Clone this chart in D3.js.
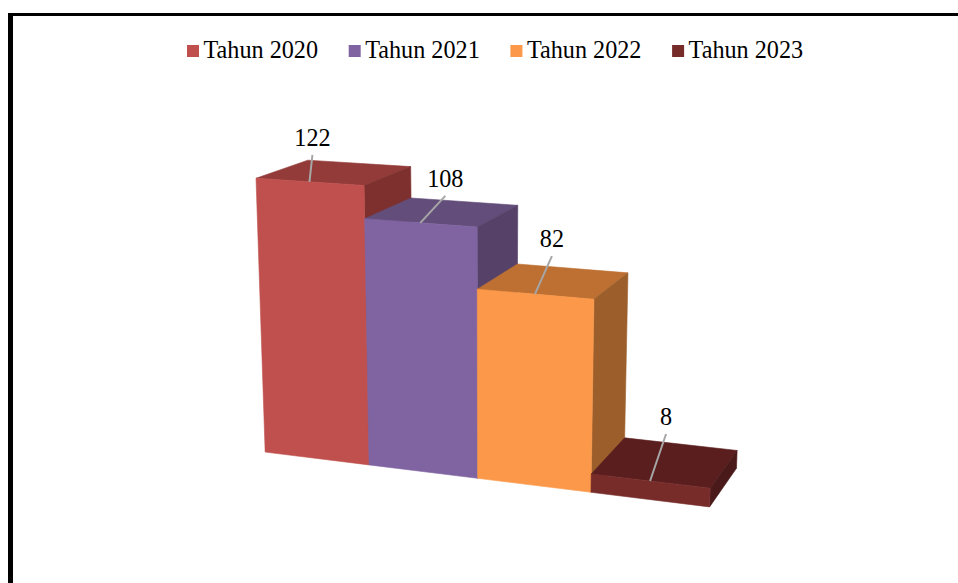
<!DOCTYPE html>
<html>
<head>
<meta charset="utf-8">
<script src="https://cdn.jsdelivr.net/npm/d3@7"></script>
<style>
body { margin: 0; background: #fff; }
svg { display: block; }
text { font-family: "Liberation Serif", serif; font-size: 24.2px; fill: #000; }
</style>
</head>
<body>
<svg id="chart" width="958" height="583"></svg>
<script>
let categories = ["Tahun 2020", "Tahun 2021", "Tahun 2022", "Tahun 2023"];
let values = [122, 108, 82, 8];

let frontColors = ["#c0504d", "#8064a2", "#fb984a", "#772c2a"];
let topColors = ["#933b39", "#634e7b", "#bd7032", "#5a1e1e"];
let sideColors = ["#7d302e", "#564268", "#9c5f2c", "#4a1a1a"];

let svg = d3.select("#chart");

// frame, open on the right and at the bottom
svg.append("rect").attr("x", 8).attr("y", 13).attr("width", 950).attr("height", 3).attr("fill", "#000");
svg.append("rect").attr("x", 8).attr("y", 13).attr("width", 5).attr("height", 570).attr("fill", "#000");

let xScale = d3.scaleBand().domain(d3.range(categories.length)).range([0, categories.length]);
let yScale = d3.scaleLinear().domain([0, 122]).range([0, 1]);

// camera fitted to the tilted 3D view
let cam = [
    [96.159, -19.160, 67.943, 265.162],
    [3.033, -280.811, -7.939, 452.088],
    [-0.021065, -0.039118, 0.058826, 1]
];

function project(x, y, z) {
    let w = cam[2][0] * x + cam[2][1] * y + cam[2][2] * z + cam[2][3];
    return [
        (cam[0][0] * x + cam[0][1] * y + cam[0][2] * z + cam[0][3]) / w,
        (cam[1][0] * x + cam[1][1] * y + cam[1][2] * z + cam[1][3]) / w
    ];
}

let line = d3.line().curve(d3.curveLinearClosed);

let bars = svg.append("g").selectAll("g")
    .data(values)
    .enter()
    .append("g")
    .attr("stroke-width", 0.6);

bars.append("path")
    .attr("fill", (d, i) => topColors[i])
    .attr("stroke", (d, i) => topColors[i])
    .attr("d", (d, i) => {
        let x0 = xScale(i), x1 = x0 + xScale.bandwidth(), y = yScale(d);
        return line([project(x0, y, 0), project(x1, y, 0), project(x1, y, 1), project(x0, y, 1)]);
    });

bars.append("path")
    .attr("fill", (d, i) => sideColors[i])
    .attr("stroke", (d, i) => sideColors[i])
    .attr("d", (d, i) => {
        let x1 = xScale(i) + xScale.bandwidth(), y = yScale(d);
        return line([project(x1, 0, 0), project(x1, y, 0), project(x1, y, 1), project(x1, 0, 1)]);
    });

bars.append("path")
    .attr("fill", (d, i) => frontColors[i])
    .attr("stroke", (d, i) => frontColors[i])
    .attr("d", (d, i) => {
        let x0 = xScale(i), x1 = x0 + xScale.bandwidth(), y = yScale(d);
        return line([project(x0, 0, 0), project(x1, 0, 0), project(x1, y, 0), project(x0, y, 0)]);
    });

// data labels sit off the bar, joined by a leader line
let labelShift = [[3, -27], [25, -27], [17, -38], [16, -47]];

function anchor(d, i) {
    return project(xScale(i) + xScale.bandwidth() / 2, yScale(d), 0);
}

let labels = svg.append("g").selectAll("g")
    .data(values)
    .enter()
    .append("g")
    .attr("transform", (d, i) => {
        let p = anchor(d, i);
        return `translate(${p[0]}, ${p[1]})`;
    });

labels.append("line")
    .attr("x1", 0)
    .attr("y1", 0)
    .attr("x2", (d, i) => labelShift[i][0])
    .attr("y2", (d, i) => labelShift[i][1])
    .attr("stroke", "#a6a6a6")
    .attr("stroke-width", 2);

labels.append("text")
    .attr("x", (d, i) => labelShift[i][0])
    .attr("y", (d, i) => labelShift[i][1] - 9)
    .attr("text-anchor", "middle")
    .text(d => d);

// legend
let legend = svg.append("g").selectAll("g")
    .data(categories)
    .enter()
    .append("g")
    .attr("transform", (d, i) => `translate(${187 + i * 161.7}, 58)`);

legend.append("rect")
    .attr("x", 0)
    .attr("y", -13)
    .attr("width", 12)
    .attr("height", 12)
    .attr("fill", (d, i) => frontColors[i]);

legend.append("text")
    .attr("x", 16.5)
    .attr("y", 0)
    .text(d => d);
</script>
</body>
</html>
